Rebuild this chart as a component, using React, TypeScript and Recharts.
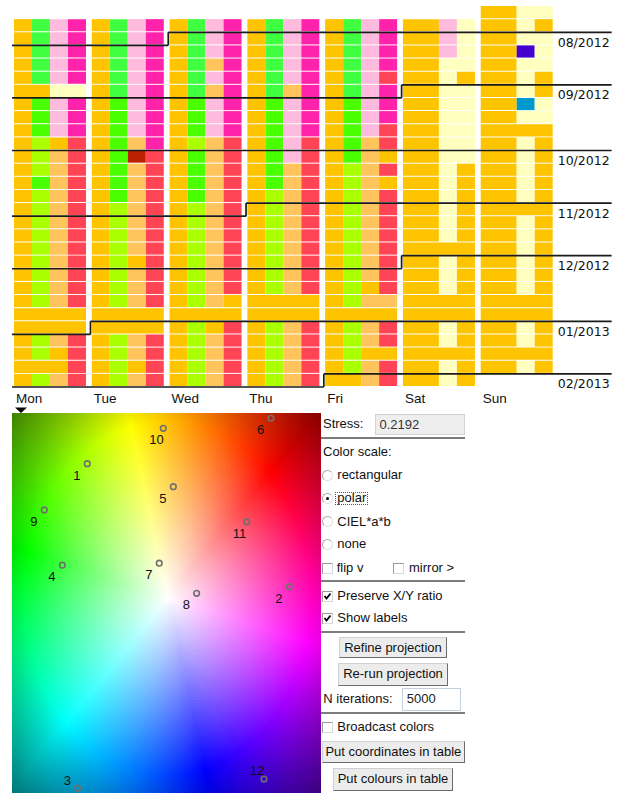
import React, { useMemo } from 'react';
import { ScatterChart, Scatter, XAxis, YAxis, ReferenceArea, ReferenceLine } from 'recharts';

// ---- calendar view: one string per week, one letter per quarter of the day (cluster code)
const DAY_NAMES = ['Mon', 'Tue', 'Wed', 'Thu', 'Fri', 'Sat', 'Sun'];

const mon = ['OGPM', 'OGPM', 'OGPM', 'OGPM', 'OGPM', 'OOWW', 'OgPM', 'OgPM', 'OgPM', 'OYOR', 'OYLR', 'OYLR', 'OgLR', 'OYLR', 'OYLR', 'OYLR', 'OYLR', 'OYLR', 'OYLR', 'OYLR', 'OYLR', 'OYLR', 'OOOO', 'OOOO', 'OYLR', 'OYOR', 'OOOR', 'OYLR'];
const tue = ['OGPM', 'OGPM', 'OGPM', 'OGPM', 'OGPM', 'OGPM', 'OgPM', 'OgPM', 'OgPM', 'OgLM', 'OgDR', 'OgLR', 'OgLR', 'OgLR', 'OYLR', 'OYLR', 'OYLR', 'OYLR', 'OYOR', 'OYLR', 'OYLR', 'OYLR', 'OOOO', 'OOOO', 'OYLR', 'OYLR', 'OYOR', 'OYLR'];
const wed = ['OGPM', 'OGPM', 'OGPM', 'OGLM', 'OGPM', 'OGLM', 'OgPM', 'OgPM', 'OgPM', 'OYLR', 'OgLR', 'OgLR', 'OgLR', 'OgLR', 'OYLR', 'OYLR', 'OYLR', 'OYLR', 'OYLR', 'OYLR', 'OYLR', 'OYLO', 'OOOO', 'OYOR', 'OYLR', 'OYLR', 'OYLR', 'OYLR'];
const thu = ['OGPM', 'OGPM', 'OGPM', 'OGPM', 'OGPM', 'OGLM', 'OgPM', 'OgPM', 'OgPM', 'OgPR', 'OgPR', 'OgLR', 'OgLR', 'OYLR', 'OYLR', 'OYLR', 'OYLR', 'OYLR', 'OYLR', 'OYLR', 'OYLR', 'OOOO', 'OOOO', 'OYLR', 'OYLR', 'OYLR', 'OYLR', 'OYLR'];
const fri = ['OGPM', 'OGPM', 'OGPM', 'OGPM', 'OGPR', 'OGPM', 'OgPM', 'OgPM', 'OgPR', 'OgLR', 'OgLO', 'OYLR', 'OYLO', 'OYLR', 'OYLR', 'OYLR', 'OYLR', 'OYLR', 'OYLR', 'OYLR', 'OYOR', 'OYLL', 'OOOO', 'OYLR', 'OYLR', 'OYOO', 'OYLR', 'OOLR'];
const sat = ['OOPW', 'OOPW', 'OOPW', 'OOWW', 'OOWO', 'OOWW', 'OOWW', 'OOWW', 'OOWW', 'OOWW', 'OOWW', 'OOWO', 'OOWO', 'OOWO', 'OOWO', 'OOWO', 'OOWO', 'OOOO', 'OOWO', 'OOWO', 'OOWO', 'OOOO', 'OOOO', 'OOWO', 'OOWO', 'OOOO', 'OOWO', 'OOWO'];
// sundays start one week earlier (data begins Sun 22 Jul 2012)
const sun = ['OOWW', 'OOWO', 'OOWW', 'OOBW', 'OOWW', 'OOWO', 'OOWO', 'OOCW', 'OOWW', 'OOOO', 'OOWO', 'OOWO', 'OOWO', 'OOWO', 'OOWO', 'OOOO', 'OOWO', 'OOWO', 'OOWO', 'OOWO', 'OOWO', 'OOWO', 'OOOO', 'OOOO', 'OOWO', 'OOWO', 'OOOO', 'OOWO'];

const WEEKDAYS = [mon, tue, wed, thu, fri, sat, sun];
// day offset of each weekday's first entry, counted from Mon 23 Jul 2012
const FIRST_OFFSET = [0, 1, 2, 3, 4, 5, -1];
const FIRST_MONDAY = Date.UTC(2012, 6, 23);

const MONTH_LABELS = ['08/2012', '09/2012', '10/2012', '11/2012', '12/2012', '01/2013', '02/2013'];
const MONTH_FIRSTS = [Date.UTC(2012, 7, 1), Date.UTC(2012, 8, 1), Date.UTC(2012, 9, 1), Date.UTC(2012, 10, 1), Date.UTC(2012, 11, 1), Date.UTC(2013, 0, 1), Date.UTC(2013, 1, 1)];

const CLUSTER_COLOURS: Record<string, string> = {
  O: '#FFC400', // 10
  G: '#40FF40', // 4
  g: '#4AFF00', // 9
  Y: '#AAFF00', // 1
  P: '#FFBBDD', // 8
  M: '#FF22AA', // 2
  L: '#FFC45C', // 5
  R: '#FF4455', // 11
  W: '#FFFFC0', // 7
  D: '#BB2200', // 6
  B: '#4400CC', // 12
  C: '#0099CC', // 3
};

// ---- projection view
const CLUSTER_IDS = [1, 2, 3, 4, 5, 6, 7, 8, 9, 10, 11, 12];
const PROJ_X = [-0.513, 0.795, -0.575, -0.674, 0.044, 0.676, -0.047, 0.195, -0.791, -0.021, 0.519, 0.631];
const PROJ_Y = [0.869, 0.073, -1.232, 0.212, 0.72, 1.163, 0.225, 0.03, 0.57, 1.098, 0.492, -1.172];

const X_MIN = -1;
const X_MAX = 1;
const Y_MIN = -1.262;
const Y_MAX = 1.197;

const CELL = 72 / 77.8;
const SLOT = CELL / 4;
const ROW_GAP = 0.075;
const LINE_LEFT = -0.026;
const LINE_RIGHT = 7.683;
const STEP_SHIFT = 0.017;

const SANS = '"Liberation Sans", Arial, sans-serif';

function hsv(h: number, s: number, v: number) {
  const f = (n: number) => {
    const k = (n + h / 60) % 6;
    return v - v * s * Math.max(0, Math.min(k, 4 - k, 1));
  };
  return [f(5), f(3), f(1)].map((c) => Math.round(c * 255));
}

function polarColour(x: number, y: number) {
  const nx = (x - 0.01) / 1.0;
  const ny = y / 1.23;
  const r = Math.hypot(nx, ny);
  const ang = (Math.atan2(nx, ny) * 180) / Math.PI;
  const h = (((45 - ang) % 360) + 360) % 360;
  const s = Math.min(1, r / 0.93);
  const v = r <= 0.93 ? 1 : Math.max(0, 1 - (r - 0.93) * 1.05);
  return hsv(h, s, v);
}

function makeField() {
  const cols = 103;
  const rows = 127;
  const canvas = document.createElement('canvas');
  canvas.width = cols;
  canvas.height = rows;
  const ctx = canvas.getContext('2d');
  if (!ctx) return '';
  const img = ctx.createImageData(cols, rows);
  for (let j = 0; j < rows; j++) {
    for (let i = 0; i < cols; i++) {
      const x = X_MIN + ((i + 0.5) / cols) * (X_MAX - X_MIN);
      const y = Y_MAX - ((j + 0.5) / rows) * (Y_MAX - Y_MIN);
      const [r, g, b] = polarColour(x, y);
      const k = (j * cols + i) * 4;
      img.data[k] = r;
      img.data[k + 1] = g;
      img.data[k + 2] = b;
      img.data[k + 3] = 255;
    }
  }
  ctx.putImageData(img, 0, 0);
  return canvas.toDataURL();
}

function DayTick(props: any) {
  const { x, y, payload } = props;
  return (
    <g>
      <text x={x + 2} y={y + 16.3} fontSize={13.5} fontFamily={SANS} fill="#111">
        {DAY_NAMES[payload.value]}
      </text>
      {payload.value === 0 && <path d={`M${x + 1},${y + 20.5} L${x + 13},${y + 20.5} L${x + 7},${y + 26} Z`} fill="#000" />}
    </g>
  );
}

function CalendarView() {
  const runs = useMemo(() => {
    const out: { day: number; row: number; from: number; to: number; code: string }[] = [];
    WEEKDAYS.forEach((weeks, d) => {
      weeks.forEach((slots, k) => {
        const row = Math.floor((FIRST_OFFSET[d] + 7 * k) / 7);
        let start = 0;
        for (let s = 1; s <= slots.length; s++) {
          if (s === slots.length || slots[s] !== slots[start]) {
            out.push({ day: d, row, from: start, to: s, code: slots[start] });
            start = s;
          }
        }
      });
    });
    return out;
  }, []);

  const months = MONTH_FIRSTS.map((t, i) => {
    const diff = Math.round((t - FIRST_MONDAY) / 86400000);
    return { label: MONTH_LABELS[i], week: Math.floor(diff / 7), col: diff % 7 };
  });
  const labelByWeek: Record<number, string> = {};
  months.forEach((m) => (labelByWeek[m.week] = m.label));

  const segments: { x1: number; y1: number; x2: number; y2: number }[] = [];
  months.forEach((m) => {
    if (m.col === 0) {
      segments.push({ x1: LINE_LEFT, y1: m.week, x2: LINE_RIGHT, y2: m.week });
    } else {
      const sx = m.col - STEP_SHIFT;
      segments.push({ x1: LINE_LEFT, y1: m.week + 1, x2: sx, y2: m.week + 1 });
      segments.push({ x1: sx, y1: m.week + 1, x2: sx, y2: m.week });
      segments.push({ x1: sx, y1: m.week, x2: LINE_RIGHT, y2: m.week });
    }
  });

  return (
    <ScatterChart width={623} height={415} margin={{ top: 6, right: 0, bottom: 0, left: 14 }}>
      <XAxis
        type="number"
        dataKey="x"
        domain={[0, 6 + CELL]}
        allowDataOverflow
        ticks={[0, 1, 2, 3, 4, 5, 6]}
        interval={0}
        height={28}
        axisLine={false}
        tickLine={false}
        tickSize={0}
        tickMargin={0}
        tick={(p: any) => <DayTick {...p} />}
      />
      <YAxis
        type="number"
        dataKey="y"
        orientation="right"
        reversed
        domain={[-1, 28]}
        allowDataOverflow
        width={70.3}
        ticks={months.map((m) => m.week)}
        interval={0}
        axisLine={false}
        tickLine={false}
        tickSize={0}
        tickMargin={0}
        tick={(p: any) => (
          <text x={p.x + 5} y={p.y + 14.6} fontSize={12.5} fontFamily='"DejaVu Sans", sans-serif' fill="#111">
            {labelByWeek[p.payload.value]}
          </text>
        )}
      />
      {runs.map((r, i) => (
        <ReferenceArea
          key={`c${i}`}
          x1={r.day + r.from * SLOT}
          x2={r.day + r.to * SLOT}
          y1={r.row}
          y2={r.row + 1 - ROW_GAP}
          fill={CLUSTER_COLOURS[r.code]}
          fillOpacity={1}
          stroke="none"
          ifOverflow="visible"
        />
      ))}
      {segments.map((s, i) => (
        <ReferenceLine
          key={`m${i}`}
          segment={[{ x: s.x1, y: s.y1 }, { x: s.x2, y: s.y2 }]}
          stroke="#1a1a1a"
          strokeWidth={1.7}
          ifOverflow="visible"
        />
      ))}
    </ScatterChart>
  );
}

function ClusterMark(props: any) {
  const { cx, cy, payload } = props;
  const above = payload.y < Y_MIN + 0.2;
  return (
    <g>
      <circle cx={cx} cy={cy} r={2.8} fill="none" stroke="#707070" strokeWidth={1.6} />
      <text x={cx - 14} y={above ? cy - 3.6 : cy + 16} fontSize={13} fontFamily={SANS} fill="#111">
        {payload.id}
      </text>
    </g>
  );
}

function ProjectionView() {
  const url = useMemo(makeField, []);
  const points = CLUSTER_IDS.map((id, i) => ({ id, x: PROJ_X[i], y: PROJ_Y[i] }));
  return (
    <ScatterChart width={321} height={390} margin={{ top: 8, right: 0, bottom: 2, left: 12 }}>
      <XAxis type="number" dataKey="x" domain={[X_MIN, X_MAX]} allowDataOverflow hide />
      <YAxis type="number" dataKey="y" domain={[Y_MIN, Y_MAX]} allowDataOverflow hide />
      <ReferenceArea
        x1={X_MIN}
        x2={X_MAX}
        y1={Y_MIN}
        y2={Y_MAX}
        ifOverflow="visible"
        shape={(p: any) => (
          <image
            href={url}
            x={p.x}
            y={p.y}
            width={p.width}
            height={p.height}
            preserveAspectRatio="none"
            style={{ imageRendering: 'pixelated' }}
          />
        )}
      />
      <Scatter data={points} isAnimationActive={false} shape={(p: any) => <ClusterMark {...p} />} />
    </ScatterChart>
  );
}

// ---- control panel
const text = (left: number, centre: number): React.CSSProperties => ({
  position: 'absolute',
  left,
  top: centre - 8,
  lineHeight: '16px',
  fontSize: 13,
  whiteSpace: 'nowrap',
  color: '#111',
});

function Radio({ left, centre, checked }: { left: number; centre: number; checked?: boolean }) {
  return (
    <div
      style={{
        position: 'absolute',
        left,
        top: centre - 5.5,
        width: 11,
        height: 11,
        boxSizing: 'border-box',
        borderRadius: '50%',
        border: '1px solid #a8a8a8',
        borderRightColor: '#e0e0e0',
        borderBottomColor: '#e0e0e0',
        background: '#fff',
      }}
    >
      {checked && <div style={{ position: 'absolute', left: 3, top: 3, width: 3, height: 3, borderRadius: '50%', background: '#000' }} />}
    </div>
  );
}

function Check({ left, top, checked }: { left: number; top: number; checked?: boolean }) {
  return (
    <div
      style={{
        position: 'absolute',
        left,
        top,
        width: 11,
        height: 11,
        boxSizing: 'border-box',
        border: '1px solid #9a9a9a',
        borderRightColor: '#d8d8d8',
        borderBottomColor: '#d8d8d8',
        background: '#fff',
      }}
    >
      {checked && (
        <svg width={9} height={9} style={{ position: 'absolute', left: 0, top: 0 }}>
          <polyline points="1.5,4 3.5,6.5 7.5,1.5" fill="none" stroke="#000" strokeWidth={1.8} />
        </svg>
      )}
    </div>
  );
}

function Button({ left, top, width, height, label }: { left: number; top: number; width: number; height: number; label: string }) {
  return (
    <div
      style={{
        position: 'absolute',
        left,
        top,
        width,
        height,
        boxSizing: 'border-box',
        border: '1px solid',
        borderColor: '#d0d0d0 #6c6c6c #6c6c6c #d0d0d0',
        background: '#ececec',
        fontSize: 13,
        lineHeight: `${height - 2}px`,
        textAlign: 'center',
        whiteSpace: 'nowrap',
        color: '#111',
      }}
    >
      {label}
    </div>
  );
}

function Separator({ top }: { top: number }) {
  return <div style={{ position: 'absolute', left: 321, top, width: 144, height: 2, background: '#7c7c7c' }} />;
}

function ControlPanel() {
  return (
    <div style={{ position: 'absolute', left: 0, top: 0, fontFamily: SANS }}>
      <div style={text(323, 424.3)}>Stress:</div>
      <div
        style={{
          position: 'absolute',
          left: 375,
          top: 413.5,
          width: 89.5,
          height: 21.5,
          boxSizing: 'border-box',
          background: '#eeeeee',
          border: '1px solid #d2d2d2',
          fontSize: 13,
          lineHeight: '19px',
          paddingLeft: 3.5,
          color: '#333',
        }}
      >
        0.2192
      </div>
      <Separator top={436.7} />
      <div style={text(323, 451.7)}>Color scale:</div>
      <Radio left={321.8} centre={475} />
      <div style={text(337.3, 475)}>rectangular</div>
      <Radio left={321.8} centre={498.3} checked />
      <div style={text(337.3, 498.3)}>polar</div>
      <div style={{ position: 'absolute', left: 335, top: 492, width: 32.5, height: 13, border: '1px dotted #555', boxSizing: 'border-box' }} />
      <Radio left={321.8} centre={521.7} />
      <div style={text(337.3, 521.7)}>CIEL*a*b</div>
      <Radio left={321.8} centre={544.3} />
      <div style={text(337.3, 544.3)}>none</div>
      <Check left={322} top={562.5} />
      <div style={text(336.7, 568.3)}>flip v</div>
      <Check left={393} top={562.5} />
      <div style={text(409, 568.3)}>mirror &gt;</div>
      <Separator top={580} />
      <Check left={322} top={590.5} checked />
      <div style={text(337.3, 595.7)}>Preserve X/Y ratio</div>
      <Check left={322} top={613.3} checked />
      <div style={text(337.3, 618.3)}>Show labels</div>
      <Separator top={631} />
      <Button left={339.3} top={636.7} width={107.4} height={21.6} label="Refine projection" />
      <Button left={338.3} top={663.3} width={109.4} height={22.4} label="Re-run projection" />
      <div style={text(323.3, 699.3)}>N iterations:</div>
      <div
        style={{
          position: 'absolute',
          left: 401.7,
          top: 688.3,
          width: 59,
          height: 22.4,
          boxSizing: 'border-box',
          background: '#fff',
          border: '1px solid #c4d0de',
          fontSize: 13,
          lineHeight: '20px',
          paddingLeft: 4,
          color: '#222',
        }}
      >
        5000
      </div>
      <Separator top={712.3} />
      <Check left={322} top={722.3} />
      <div style={text(337.3, 727)}>Broadcast colors</div>
      <Button left={321.7} top={741} width={143.3} height={22.3} label="Put coordinates in table" />
      <Button left={333.3} top={768.3} width={119.4} height={22.4} label="Put colours in table" />
    </div>
  );
}

export default function App() {
  return (
    <div style={{ position: 'absolute', left: 0, top: 0, width: 623, height: 795, background: '#fff', overflow: 'hidden' }}>
      <div style={{ position: 'absolute', left: 0, top: 405 }}>
        <ProjectionView />
      </div>
      <div style={{ position: 'absolute', left: 0, top: 0 }}>
        <CalendarView />
      </div>
      <ControlPanel />
    </div>
  );
}
